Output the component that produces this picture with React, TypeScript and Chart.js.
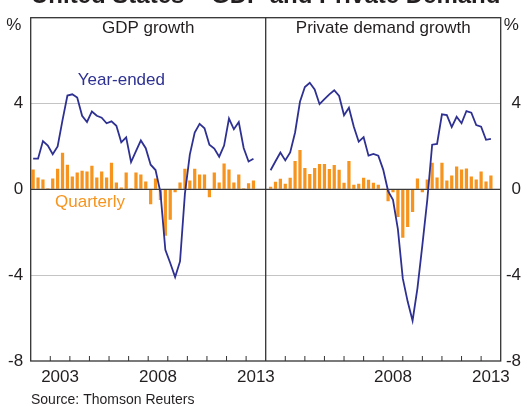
import React, { useEffect, useRef } from 'react';
import { Chart, registerables } from 'chart.js';

Chart.register(...registerables);

const FONT = '"Liberation Sans", Arial, Helvetica, sans-serif';
const NAVY = '#2e3192';
const ORANGE = '#f7941d';
const INK = '#231f20';

const chartTitle = 'United States – GDP and Private Demand';
const panelTitles = ['GDP growth', 'Private demand growth'];
const seriesLabels = ['Year-ended', 'Quarterly'];
const sourceText = 'Source: Thomson Reuters';

const startYear = 2002;
const panelYears = 12;
const leftYearLabels = [2003, 2008, 2013];
const rightYearLabels = [2008, 2013];
const yMin = -8;
const yMax = 8;
const yStep = 4;

// GDP growth, 2002Q1 onward (per cent)
const gdpQuarterly = [
  0.92, 0.55, 0.46, 0.05, 0.5, 0.96, 1.7, 1.15, 0.6, 0.78,
  0.87, 0.83, 1.1, 0.55, 0.83, 0.55, 1.24, 0.32, 0.09, 0.78,
  0.05, 0.78, 0.69, 0.37, -0.69, 0.5, -0.5, -2.16, -1.42, -0.14,
  0.32, 0.96, 0.41, 0.96, 0.69, 0.69, -0.37, 0.78, 0.32, 1.2,
  0.92, 0.32, 0.69, 0.05, 0.28, 0.41,
];
const gdpYearEnded = [
  1.43, 1.43, 2.25, 2.04, 1.64, 2.0, 3.23, 4.37, 4.43, 4.28,
  3.43, 3.14, 3.63, 3.43, 3.34, 3.08, 3.17, 2.96, 2.19, 2.42,
  1.27, 1.78, 2.28, 1.92, 1.15, 0.9, -0.14, -2.82, -3.43, -4.09,
  -3.36, -0.2, 1.62, 2.65, 3.05, 2.85, 2.08, 1.9, 1.52, 2.04,
  3.3, 2.8, 3.14, 1.93, 1.3, 1.43,
];

// Private demand growth, 2002Q1 onward (per cent)
const pdQuarterly = [
  0.12, 0.35, 0.49, 0.26, 0.54, 1.32, 1.83, 1.0, 0.72, 1.0,
  1.18, 1.18, 0.95, 1.14, 0.91, 0.31, 1.32, 0.22, 0.26, 0.54,
  0.45, 0.31, 0.22, 0.02, -0.55, -0.14, -1.29, -2.25, -1.75, -1.06,
  0.5, -0.14, 0.46, 1.24, 0.55, 1.24, 0.41, 0.64, 1.06, 0.92,
  0.97, 0.6, 0.46, 0.83, 0.37, 0.64,
];
const pdYearEnded = [
  0.89, 1.31, 1.72, 1.35, 1.72, 2.65, 4.08, 4.77, 4.97, 4.66,
  3.97, 4.2, 4.43, 4.62, 4.35, 3.45, 3.8, 2.92, 2.22, 2.43,
  1.57, 1.65, 1.57, 0.92, -0.08, -0.49, -1.85, -4.15, -5.23, -6.12,
  -4.6, -2.6, -0.5, 2.08, 2.12, 3.5, 3.46, 2.9, 3.38, 3.08,
  3.65, 3.57, 3.0, 2.92, 2.31, 2.35,
];

// left panel: quarters plotted mid-quarter; right panel: plotted at quarter end
const leftX = (i: number) => startYear + i / 4 + 0.125;
const rightX = (i: number) => startYear + panelYears + (i + 1) / 4;
const toPoints = (vals: number[], fx: (i: number) => number) => vals.map((v, i) => ({ x: fx(i), y: v }));

const labelTicks = [
  ...leftYearLabels.map((y) => y + 0.5),
  ...rightYearLabels.map((y) => y + panelYears + 0.5),
];

const decor = {
  id: 'decor',
  afterDatasetDraw(chart: any, args: any) {
    if (args.index !== 2) return;
    const { ctx, chartArea: a, scales } = chart;
    const y0 = scales.y.getPixelForValue(0);
    ctx.save();
    ctx.strokeStyle = '#3a3a3a';
    ctx.lineWidth = 1.4;
    ctx.beginPath();
    ctx.moveTo(a.left, y0);
    ctx.lineTo(a.right, y0);
    ctx.stroke();
    ctx.restore();
  },
  afterDraw(chart: any) {
    const { ctx, chartArea: a, scales } = chart;
    const xs = scales.x;
    const divX = xs.getPixelForValue(startYear + panelYears);
    ctx.save();
    // frame + divider
    ctx.strokeStyle = '#333333';
    ctx.lineWidth = 1.3;
    ctx.strokeRect(a.left, a.top, a.right - a.left, a.bottom - a.top);
    ctx.beginPath();
    ctx.moveTo(divX, a.top);
    ctx.lineTo(divX, a.bottom);
    ctx.stroke();
    // year tick marks (inside)
    ctx.lineWidth = 1;
    ctx.beginPath();
    for (let p = 0; p < 2; p++) {
      for (let k = 1; k < panelYears; k++) {
        const px = xs.getPixelForValue(startYear + p * panelYears + k);
        ctx.moveTo(px, a.bottom);
        ctx.lineTo(px, a.bottom - 5);
      }
    }
    ctx.stroke();

    // texts
    ctx.fillStyle = INK;
    ctx.textBaseline = 'alphabetic';
    ctx.textAlign = 'center';
    ctx.font = `bold 24px ${FONT}`;
    ctx.fillText(chartTitle, divX, 3.2);

    ctx.font = `17px ${FONT}`;
    ctx.fillText(panelTitles[0], (a.left + divX) / 2, 32.5);
    ctx.fillText(panelTitles[1], (divX + a.right) / 2, 32.5);
    ctx.fillText('%', a.left - 17, 30);
    ctx.fillText('%', a.right + 10.5, 30);

    ctx.textAlign = 'left';
    ctx.fillStyle = NAVY;
    ctx.fillText(seriesLabels[0], 77.7, 85);
    ctx.fillStyle = ORANGE;
    ctx.fillText(seriesLabels[1], 55, 206.5);

    ctx.fillStyle = INK;
    ctx.font = `14px ${FONT}`;
    ctx.fillText(sourceText, 31, 404);
    ctx.restore();
  },
};

export default function App() {
  const ref = useRef<HTMLCanvasElement | null>(null);

  useEffect(() => {
    if (!ref.current) return;
    const chart = new Chart(ref.current, {
      type: 'bar',
      data: {
        datasets: [
          {
            type: 'line',
            label: 'GDP year-ended',
            data: toPoints(gdpYearEnded, leftX),
            borderColor: NAVY,
            borderWidth: 1.8,
            pointRadius: 0,
            tension: 0,
            fill: false,
          } as any,
          {
            type: 'line',
            label: 'Private demand year-ended',
            data: toPoints(pdYearEnded, rightX),
            borderColor: NAVY,
            borderWidth: 1.8,
            pointRadius: 0,
            tension: 0,
            fill: false,
          } as any,
          {
            type: 'bar',
            label: 'GDP quarterly',
            data: toPoints(gdpQuarterly, leftX),
            backgroundColor: ORANGE,
            borderWidth: 0,
            grouped: false,
            barPercentage: 0.66,
            categoryPercentage: 1,
          } as any,
          {
            type: 'bar',
            label: 'Private demand quarterly',
            data: toPoints(pdQuarterly, rightX),
            backgroundColor: ORANGE,
            borderWidth: 0,
            grouped: false,
            barPercentage: 0.66,
            categoryPercentage: 1,
          } as any,
        ],
      },
      options: {
        animation: false,
        responsive: true,
        maintainAspectRatio: false,
        layout: { padding: { left: 0, right: 6, top: 12.7, bottom: 0 } },
        plugins: {
          legend: { display: false },
          title: { display: false },
          tooltip: { enabled: false },
        },
        scales: {
          x: {
            type: 'linear',
            min: startYear,
            max: startYear + 2 * panelYears,
            offset: false,
            grid: { display: false, drawTicks: false },
            border: { display: false },
            afterBuildTicks: (s: any) => {
              s.ticks = labelTicks.map((v) => ({ value: v }));
            },
            afterFit: (s: any) => {
              s.height = 45;
            },
            ticks: {
              autoSkip: false,
              maxRotation: 0,
              padding: 6.3,
              color: INK,
              font: { family: FONT, size: 17 },
              callback: (v: any) => {
                const n = Number(v);
                return String(Math.floor(n >= startYear + panelYears ? n - panelYears : n));
              },
            },
          },
          y: {
            type: 'linear',
            position: 'left',
            min: yMin,
            max: yMax,
            afterFit: (s: any) => {
              s.width = 30.7;
            },
            grid: {
              drawTicks: false,
              color: (c: any) =>
                c.tick && (c.tick.value === 0 || Math.abs(c.tick.value) === yMax) ? 'rgba(0,0,0,0)' : '#c4c4c4',
              lineWidth: 1,
            },
            border: { display: false },
            ticks: {
              stepSize: yStep,
              padding: 7.5,
              color: INK,
              font: { family: FONT, size: 17 },
              callback: (v: any) => (Number(v) === yMax ? '' : String(v)),
            },
          },
          y2: {
            type: 'linear',
            position: 'right',
            min: yMin,
            max: yMax,
            afterFit: (s: any) => {
              s.width = 20.3;
            },
            grid: { display: false, drawTicks: false },
            border: { display: false },
            ticks: {
              stepSize: yStep,
              crossAlign: 'far',
              color: INK,
              font: { family: FONT, size: 17 },
              callback: (v: any) => (Number(v) === yMax ? '' : String(v)),
            },
          },
        },
      } as any,
      plugins: [decor],
    });
    return () => chart.destroy();
  }, []);

  return (
    <div style={{ position: 'fixed', left: 0, top: 0, width: 527, height: 406, background: '#ffffff' }}>
      <canvas ref={ref} />
    </div>
  );
}
